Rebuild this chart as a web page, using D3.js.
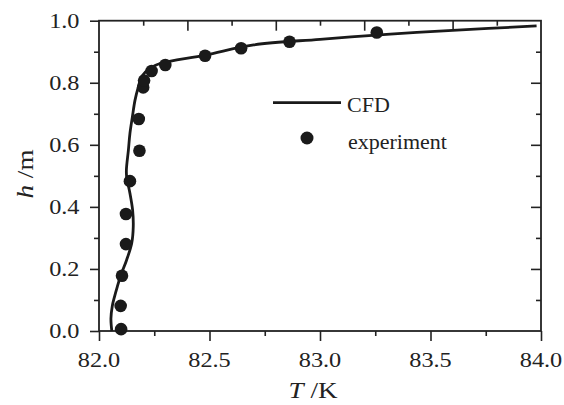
<!DOCTYPE html>
<html><head><meta charset="utf-8">
<script src="https://cdn.jsdelivr.net/npm/d3@7"></script>
<style>
html,body{margin:0;padding:0;background:#fff;}
svg{display:block;}
text{font-family:"Liberation Serif","Times New Roman",serif;fill:#222;}
</style></head>
<body>
<svg id="chart" width="564" height="405"></svg>
<script>
// ---- data ----
const cfdT = [82.058,82.054,82.060,82.070,82.083,82.098,82.125,82.148,82.155,82.152,82.140,82.125,82.124,82.133,82.140,82.151,82.163,82.178,82.193,82.231,82.276,82.480,82.700,83.000,83.318,83.600,83.980];
const cfdH = [0.000,0.040,0.080,0.110,0.143,0.178,0.229,0.283,0.336,0.390,0.444,0.497,0.520,0.583,0.637,0.690,0.744,0.787,0.820,0.847,0.862,0.889,0.922,0.940,0.957,0.969,0.983];
const expT = [82.100,82.098,82.104,82.122,82.122,82.140,82.183,82.180,82.200,82.204,82.238,82.300,82.480,82.643,82.862,83.257];
const expH = [0.006,0.081,0.178,0.280,0.377,0.483,0.581,0.683,0.785,0.807,0.838,0.857,0.887,0.911,0.932,0.962];
const xMajor = [82.0,82.5,83.0,83.5,84.0];
const xMinor = [82.25,82.75,83.25,83.75];
const xTopMajor = [82.4,82.8,83.2,83.6];
const xTopMinor = [82.2,82.6,83.0,83.4,83.8];
const yMajor = [0.0,0.2,0.4,0.6,0.8,1.0];
const yMinor = [0.1,0.3,0.5,0.7,0.9];
const yRightMajor = [0.2,0.4,0.6,0.8];
const xLabels = ["82.0","82.5","83.0","83.5","84.0"];
const yLabels = ["0.0","0.2","0.4","0.6","0.8","1.0"];
const legendNames = ["CFD","experiment"];

// ---- layout ----
const L = 99, R = 541, T = 20.7, B = 331;
const svg = d3.select("#chart");
const x = d3.scaleLinear().domain([82,84]).range([L,R]);
const y = d3.scaleLinear().domain([0,1]).range([B,T]);
const ink = "#222";
const SX = 1.13; // horizontal stretch of the reference lettering

function styleAxis(g){
  g.select(".domain").remove();
  g.selectAll("line").attr("stroke",ink).attr("stroke-width",1.6);
}
// bottom (outward)
svg.append("g").attr("transform",`translate(0,${B})`).call(d3.axisBottom(x).tickValues(xMajor).tickSize(10).tickFormat("")).call(styleAxis);
svg.append("g").attr("transform",`translate(0,${B})`).call(d3.axisBottom(x).tickValues(xMinor).tickSize(5).tickFormat("")).call(styleAxis);
// top (inward)
svg.append("g").attr("transform",`translate(0,${T})`).call(d3.axisBottom(x).tickValues(xTopMajor).tickSize(10).tickFormat("")).call(styleAxis);
svg.append("g").attr("transform",`translate(0,${T})`).call(d3.axisBottom(x).tickValues(xTopMinor).tickSize(5).tickFormat("")).call(styleAxis);
// left (outward)
svg.append("g").attr("transform",`translate(${L},0)`).call(d3.axisLeft(y).tickValues(yMajor).tickSize(9).tickFormat("")).call(styleAxis);
svg.append("g").attr("transform",`translate(${L},0)`).call(d3.axisLeft(y).tickValues(yMinor).tickSize(5).tickFormat("")).call(styleAxis);
// right (inward)
svg.append("g").attr("transform",`translate(${R},0)`).call(d3.axisLeft(y).tickValues(yRightMajor).tickSize(10).tickFormat("")).call(styleAxis);
svg.append("g").attr("transform",`translate(${R},0)`).call(d3.axisLeft(y).tickValues(yMinor).tickSize(5).tickFormat("")).call(styleAxis);

// frame
svg.append("rect").attr("x",L).attr("y",T).attr("width",R-L).attr("height",B-T)
  .attr("fill","none").attr("stroke",ink).attr("stroke-width",1.8);

// tick labels
svg.append("g").selectAll("text").data(xMajor).join("text")
  .attr("transform",d=>`translate(${x(d)},366.5) scale(${SX},1)`).attr("text-anchor","middle")
  .style("font-size","21.5px").text((d,i)=>xLabels[i]);
svg.append("g").selectAll("text").data(yMajor).join("text")
  .attr("transform",d=>`translate(79.5,${y(d)+7.3}) scale(${SX},1)`).attr("text-anchor","end")
  .style("font-size","21.5px").text((d,i)=>yLabels[i]);

// axis titles
const xt = svg.append("text").attr("transform",`translate(313,397.5) scale(${SX},1)`).attr("text-anchor","middle").style("font-size","24px");
xt.append("tspan").style("font-style","italic").text("T");
xt.append("tspan").text(" /K");
const yt = svg.append("text").attr("transform",`translate(33,174) rotate(-90) scale(${SX},1)`).attr("text-anchor","middle").style("font-size","24px");
yt.append("tspan").style("font-style","italic").text("h");
yt.append("tspan").text(" /m");

// CFD line
const cfd = cfdT.map((t,i)=>[t,cfdH[i]]);
svg.append("path").datum(cfd)
  .attr("d",d3.line().x(d=>x(d[0])).y(d=>y(d[1])).curve(d3.curveCatmullRom.alpha(0.5)))
  .attr("fill","none").attr("stroke","#1a1a1a").attr("stroke-width",2.8).attr("stroke-linejoin","round");

// experiment markers
svg.append("g").selectAll("circle").data(expT.map((t,i)=>[t,expH[i]])).join("circle")
  .attr("cx",d=>x(d[0])).attr("cy",d=>y(d[1])).attr("r",6.3).attr("fill","#1a1a1a");

// legend
const lg = svg.append("g");
lg.append("line").attr("x1",273).attr("x2",341).attr("y1",102.7).attr("y2",102.7).attr("stroke","#1a1a1a").attr("stroke-width",2.8);
lg.append("text").attr("x",347).attr("y",111.5).style("font-size","22px").text(legendNames[0]);
lg.append("circle").attr("cx",307).attr("cy",138).attr("r",6.5).attr("fill","#1a1a1a");
lg.append("text").attr("x",348).attr("y",149).style("font-size","22px").text(legendNames[1]);
</script>
</body></html>
